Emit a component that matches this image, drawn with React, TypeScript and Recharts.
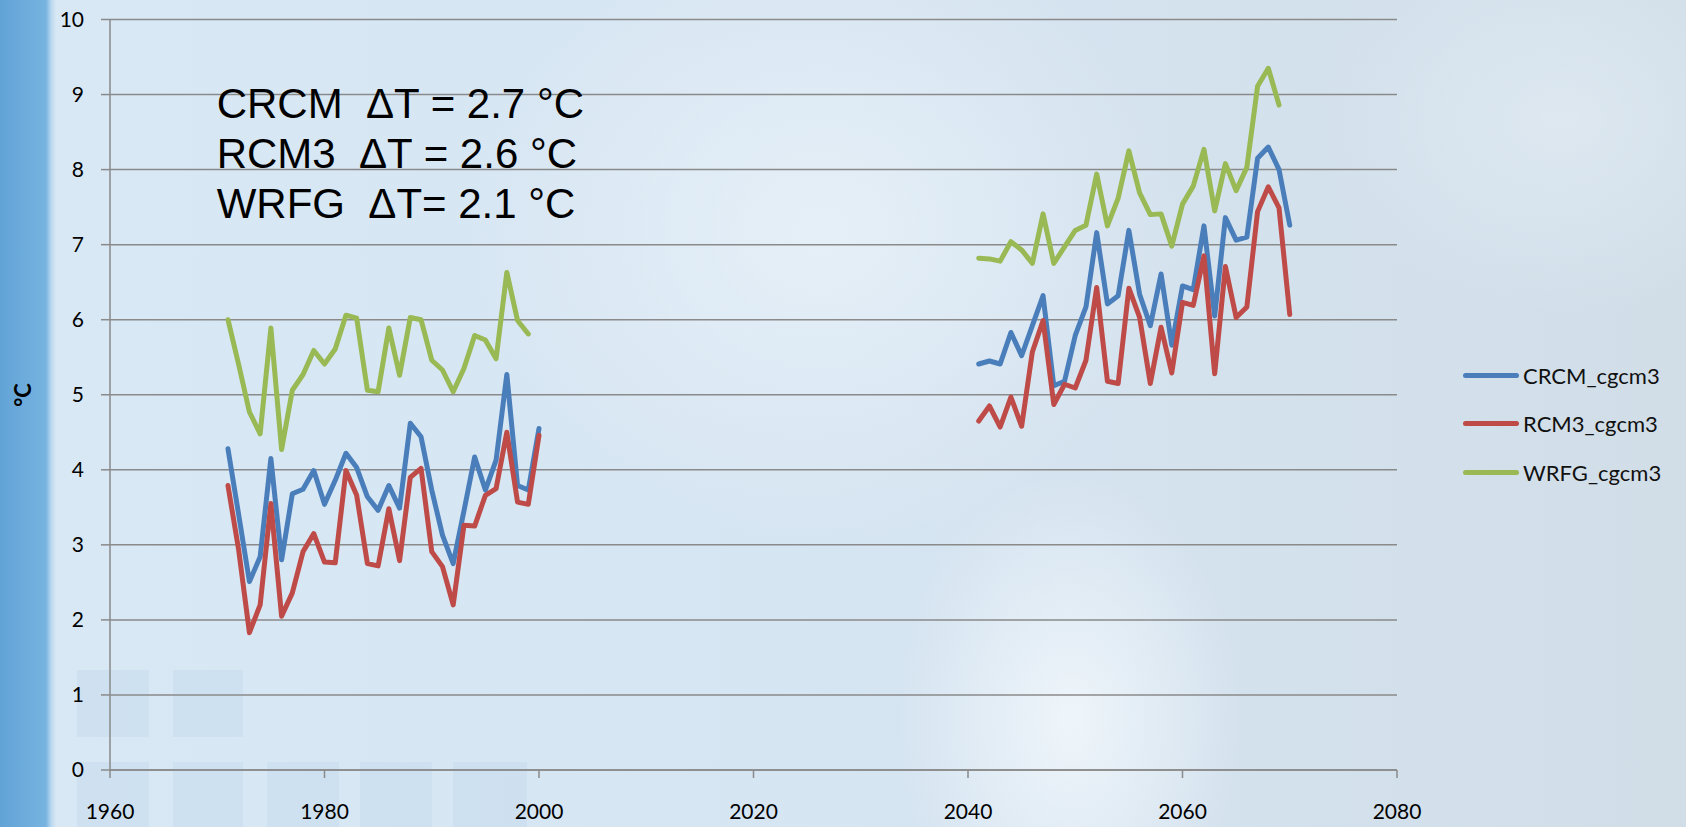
import { LineChart, Line, XAxis, YAxis, CartesianGrid, Legend } from 'recharts';

const HIST_YEARS = [
  1971, 1972, 1973, 1974, 1975, 1976, 1977, 1978, 1979, 1980,
  1981, 1982, 1983, 1984, 1985, 1986, 1987, 1988, 1989, 1990,
  1991, 1992, 1993, 1994, 1995, 1996, 1997, 1998, 1999, 2000,
];
const FUT_YEARS = [
  2041, 2042, 2043, 2044, 2045, 2046, 2047, 2048, 2049, 2050,
  2051, 2052, 2053, 2054, 2055, 2056, 2057, 2058, 2059, 2060,
  2061, 2062, 2063, 2064, 2065, 2066, 2067, 2068, 2069, 2070,
];

const CRCM_HIST = [
  4.28, 3.4, 2.51, 2.84, 4.15, 2.8, 3.68, 3.74, 3.99, 3.54,
  3.86, 4.22, 4.03, 3.64, 3.46, 3.79, 3.49, 4.62, 4.44, 3.73,
  3.13, 2.75, 3.45, 4.17, 3.73, 4.13, 5.27, 3.79, 3.73, 4.55,
];
const RCM3_HIST = [
  3.79, 2.93, 1.83, 2.2, 3.55, 2.05, 2.36, 2.91, 3.15, 2.77,
  2.76, 3.99, 3.66, 2.75, 2.72, 3.48, 2.79, 3.9, 4.02, 2.91,
  2.71, 2.2, 3.26, 3.25, 3.66, 3.75, 4.5, 3.57, 3.54, 4.46,
];
const WRFG_HIST = [
  6.0, 5.4, 4.77, 4.48, 5.89, 4.27, 5.06, 5.27, 5.59, 5.41,
  5.61, 6.06, 6.02, 5.06, 5.04, 5.89, 5.26, 6.03, 6.0, 5.46,
  5.33, 5.04, 5.35, 5.79, 5.73, 5.48, 6.63, 5.99, 5.81, null,
];

const CRCM_FUT = [
  5.41, 5.45, 5.41, 5.83, 5.52, 5.92, 6.32, 5.12, 5.18, 5.79,
  6.17, 7.16, 6.21, 6.32, 7.19, 6.34, 5.92, 6.61, 5.66, 6.45,
  6.4, 7.25, 6.05, 7.36, 7.06, 7.1, 8.15, 8.3, 8.0, 7.26,
];
const RCM3_FUT = [
  4.65, 4.85, 4.57, 4.97, 4.58, 5.57, 5.99, 4.87, 5.14, 5.09,
  5.46, 6.43, 5.18, 5.15, 6.42, 6.03, 5.15, 5.9, 5.29, 6.23,
  6.19, 6.85, 5.28, 6.71, 6.03, 6.17, 7.44, 7.77, 7.49, 6.07,
];
const WRFG_FUT = [
  6.82, 6.81, 6.78, 7.04, 6.93, 6.75, 7.41, 6.75, 6.97, 7.19,
  7.26, 7.94, 7.25, 7.62, 8.25, 7.69, 7.4, 7.41, 6.98, 7.54,
  7.78, 8.27, 7.45, 8.08, 7.72, 8.03, 9.11, 9.35, 8.86, null,
];

const X_TICKS = [1960, 1980, 2000, 2020, 2040, 2060, 2080];
const Y_TICKS = [0, 1, 2, 3, 4, 5, 6, 7, 8, 9, 10];

const SERIES = [
  { key: 'crcm', name: 'CRCM_cgcm3', color: '#4a7ebb' },
  { key: 'rcm3', name: 'RCM3_cgcm3', color: '#be4b48' },
  { key: 'wrfg', name: 'WRFG_cgcm3', color: '#98b954' },
];

const NOTES = ['CRCM  ΔT = 2.7 °C', 'RCM3  ΔT = 2.6 °C', 'WRFG  ΔT= 2.1 °C'];

// faint window panes in the background photo (decoration only)
const PANES = [
  [77, 670, 72, 67], [173, 670, 70, 67],
  [77, 762, 72, 65], [173, 762, 70, 65], [267, 762, 72, 65], [360, 762, 72, 65], [453, 762, 74, 65],
];

// empty row between the two periods so the lines break
const data = [
  ...HIST_YEARS.map((year, i) => ({ year, crcm: CRCM_HIST[i], rcm3: RCM3_HIST[i], wrfg: WRFG_HIST[i] })),
  { year: 2020, crcm: null, rcm3: null, wrfg: null },
  ...FUT_YEARS.map((year, i) => ({ year, crcm: CRCM_FUT[i], rcm3: RCM3_FUT[i], wrfg: WRFG_FUT[i] })),
];

const AXIS_GRAY = '#8a8a8a';
const tickStyle = { fill: '#000', fontSize: 21, fontFamily: 'Lato' };

function LegendBox() {
  return (
    <div style={{ fontFamily: 'Lato', fontSize: 22, color: '#111' }}>
      {SERIES.map((s) => (
        <div key={s.key} style={{ display: 'flex', alignItems: 'center', height: 48.5 }}>
          <span
            style={{ width: 56, height: 5, borderRadius: 3, background: s.color, marginRight: 4, flexShrink: 0 }}
          />
          <span>{s.name}</span>
        </div>
      ))}
    </div>
  );
}

export default function App() {
  return (
    <div
      style={{
        position: 'absolute',
        left: 0,
        top: 0,
        width: 1686,
        height: 827,
        overflow: 'hidden',
        background: [
          'radial-gradient(ellipse 230px 330px at 1070px 720px, rgba(240,246,251,0.95), rgba(240,246,251,0) 75%)',
          'radial-gradient(ellipse 480px 420px at 820px 230px, rgba(232,241,248,0.85), rgba(232,241,248,0) 75%)',
          'radial-gradient(ellipse 320px 260px at 1560px 120px, rgba(226,236,244,0.7), rgba(226,236,244,0) 75%)',
          'linear-gradient(to right, #d8e8f5 0%, #d6e5f2 50%, #d1dee8 100%)',
        ].join(','),
      }}
    >
      {PANES.map(([x, y, w, h], i) => (
        <div
          key={i}
          style={{
            position: 'absolute',
            left: x,
            top: y,
            width: w,
            height: h,
            background: 'rgba(150,182,215,0.12)',
          }}
        />
      ))}
      <div
        style={{
          position: 'absolute',
          left: 0,
          top: 0,
          width: 56,
          height: 827,
          background: 'linear-gradient(to right, #62a3d6 0px, #76b3e0 46px, #b8d7ef 51px, #d8e8f5 56px)',
        }}
      />
      <LineChart width={1686} height={827} data={data} margin={{ top: 19.5, right: 289, bottom: 0, left: 0 }}>
        <CartesianGrid horizontal vertical={false} stroke={AXIS_GRAY} strokeWidth={1.5} />
        <XAxis
          dataKey="year"
          type="number"
          domain={[1960, 2080]}
          ticks={X_TICKS}
          interval={0}
          height={57}
          tickSize={8}
          tickMargin={26}
          stroke={AXIS_GRAY}
          strokeWidth={1.5}
          tick={tickStyle}
        />
        <YAxis
          type="number"
          domain={[0, 10]}
          ticks={Y_TICKS}
          interval={0}
          width={110}
          tickSize={9}
          tickMargin={17}
          stroke={AXIS_GRAY}
          strokeWidth={1.5}
          tick={tickStyle}
        />
        {SERIES.map((s) => (
          <Line
            key={s.key}
            type="linear"
            dataKey={s.key}
            name={s.name}
            stroke={s.color}
            strokeWidth={5}
            strokeLinejoin="round"
            strokeLinecap="round"
            dot={false}
            activeDot={false}
            connectNulls={false}
            isAnimationActive={false}
          />
        ))}
        <Legend
          layout="horizontal"
          verticalAlign="middle"
          align="center"
          content={() => <LegendBox />}
          wrapperStyle={{ left: 1463, top: 350.75, width: 223, bottom: 'auto', right: 'auto' }}
        />
      </LineChart>
      <svg
        width={1686}
        height={827}
        style={{ position: 'absolute', left: 0, top: 0, pointerEvents: 'none' }}
      >
        <text
          x={22}
          y={395}
          transform="rotate(-90 22 395)"
          textAnchor="middle"
          dominantBaseline="central"
          fontFamily="Lato"
          fontWeight="bold"
          fontSize={22}
          fill="#000"
        >
          °C
        </text>
        {NOTES.map((t, i) => (
          <text
            key={t}
            x={216.7}
            y={118.3 + i * 50}
            fontFamily="'Liberation Sans', Arial, sans-serif"
            fontSize={42}
            fill="#000"
            style={{ whiteSpace: 'pre' }}
          >
            {t}
          </text>
        ))}
      </svg>
    </div>
  );
}
